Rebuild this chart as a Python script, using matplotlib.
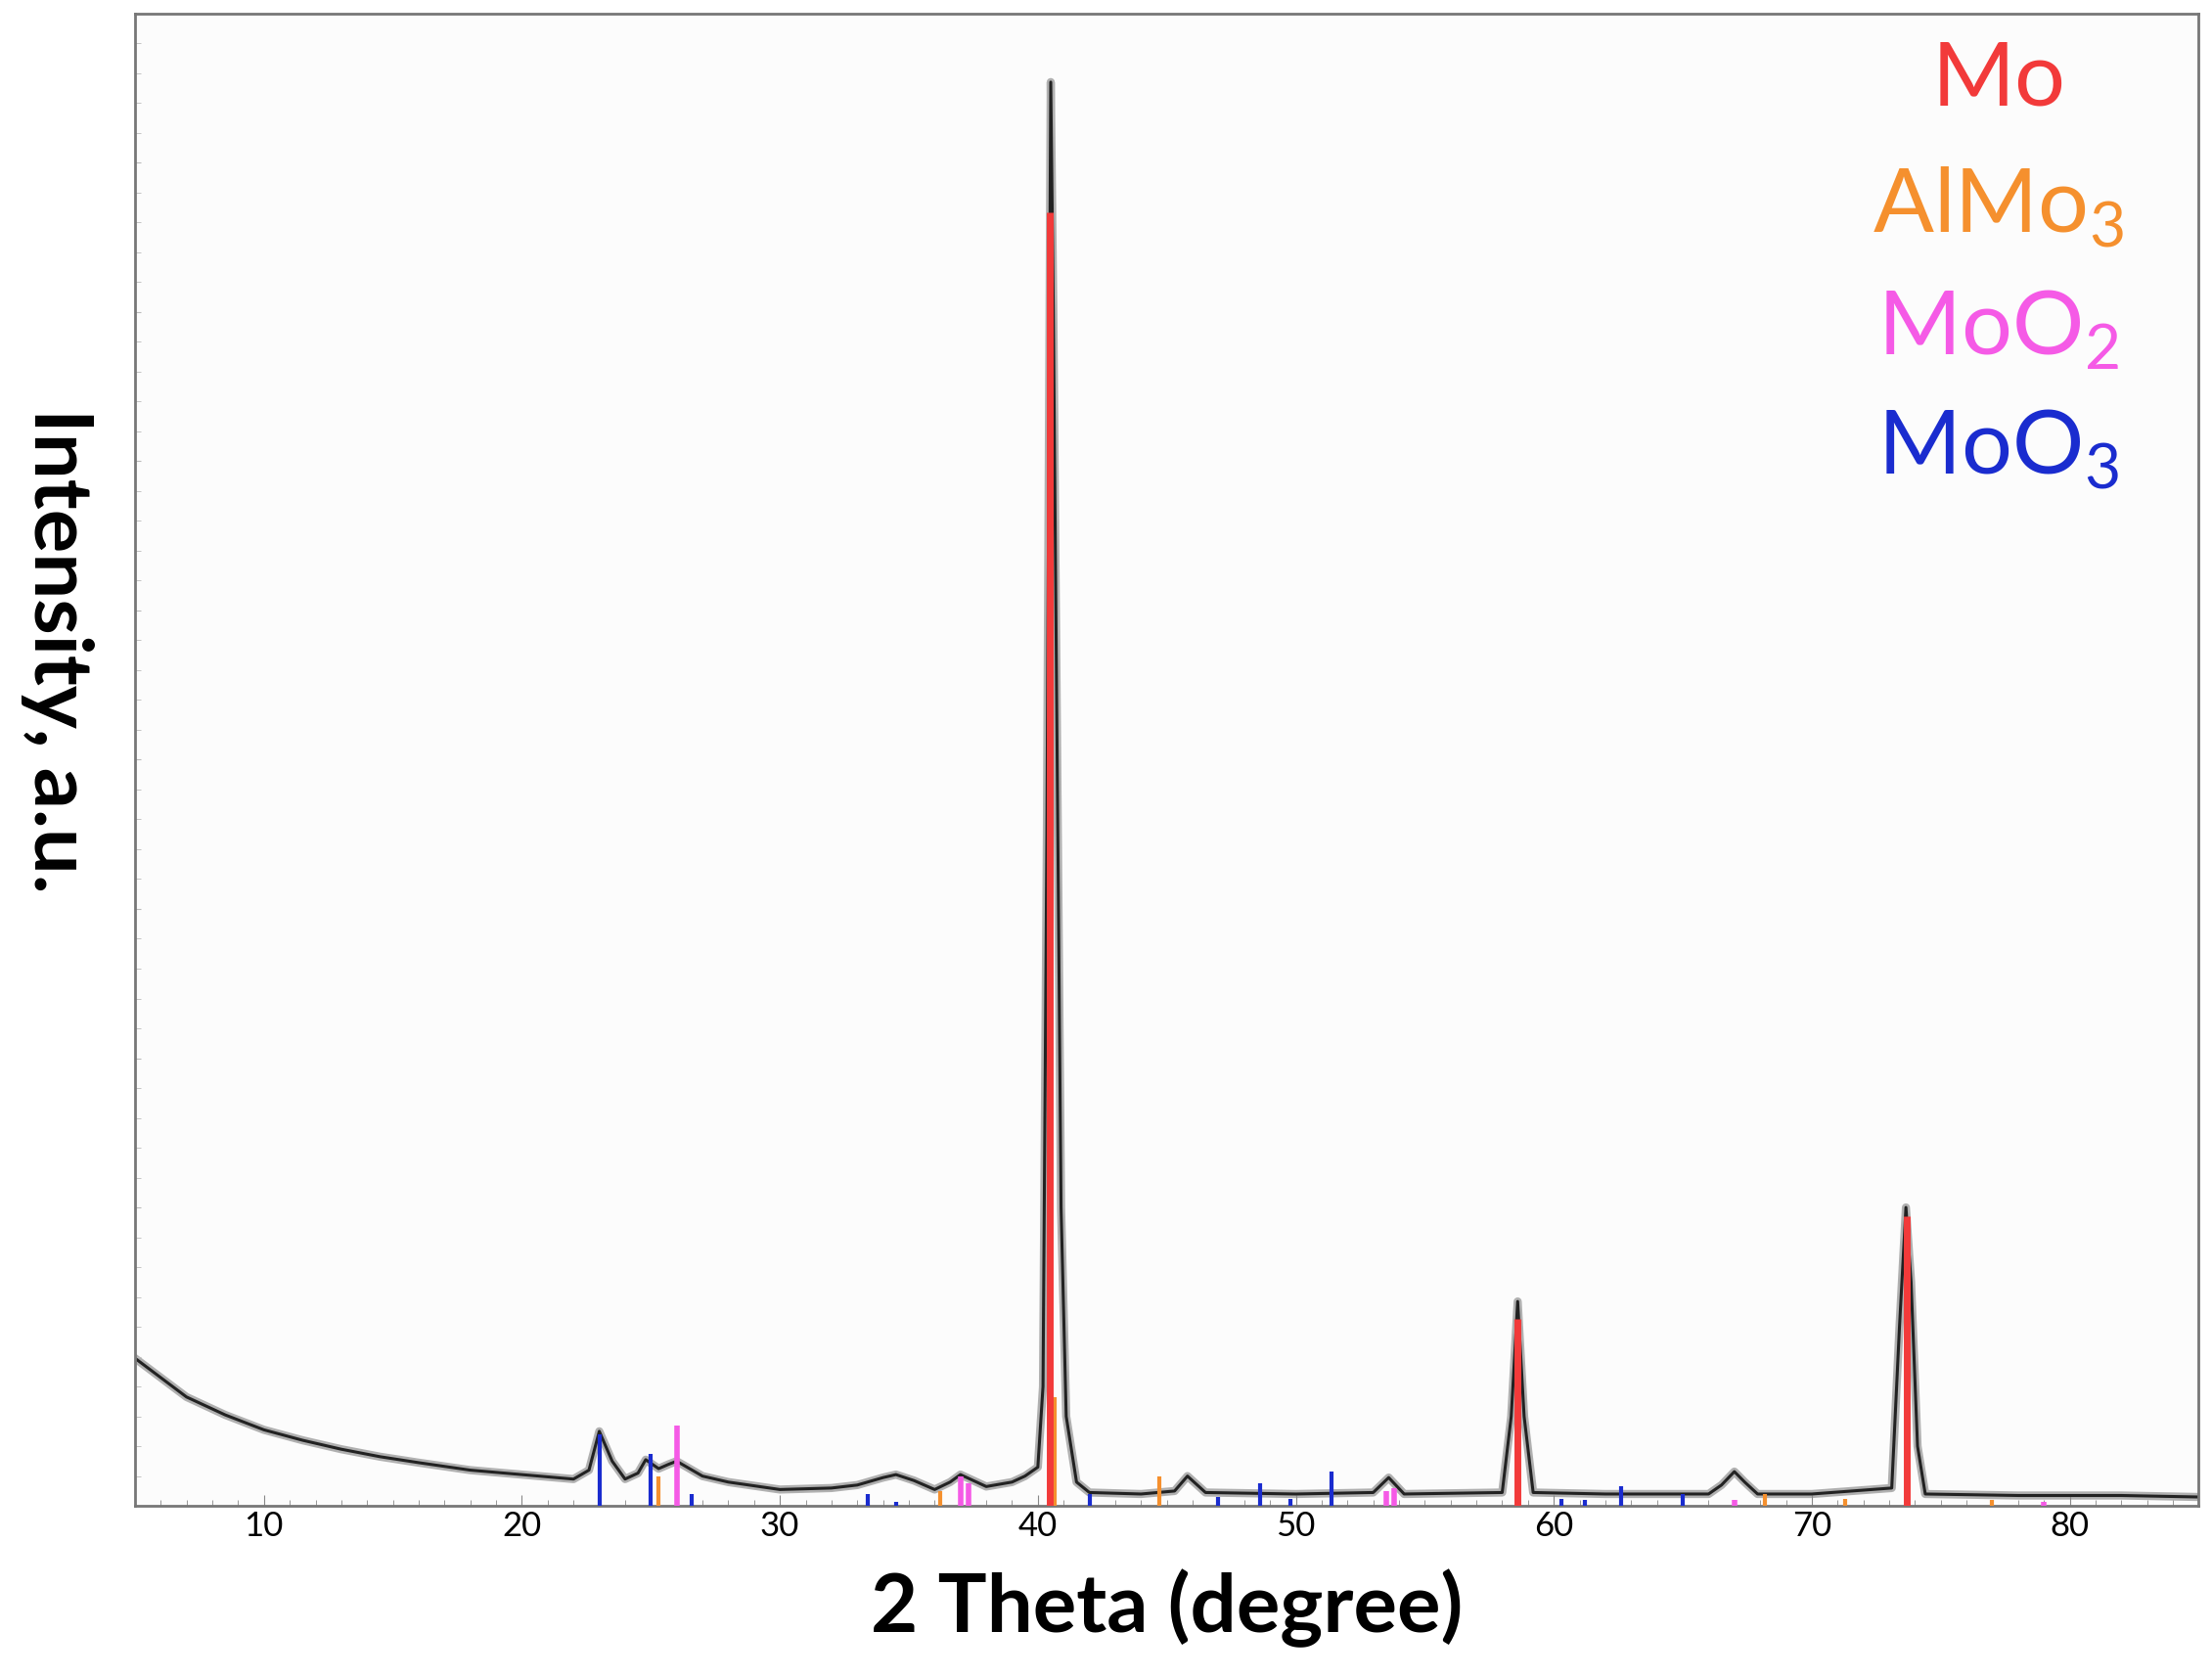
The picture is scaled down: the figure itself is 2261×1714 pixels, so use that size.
import matplotlib
matplotlib.use("Agg")
import matplotlib.pyplot as plt
from matplotlib.ticker import MultipleLocator, NullFormatter

plt.rcParams['font.family'] = ['Lato', 'DejaVu Sans']
plt.rcParams['mathtext.fontset'] = 'custom'
plt.rcParams['mathtext.rm'] = 'Lato'

# XRD profile (2theta, relative intensity)
theta = [5, 6, 7, 8.5, 10, 11.5, 13, 14.5, 16, 18, 20, 22, 22.6, 23.0, 23.5, 24.0, 24.5, 24.8, 25.3, 25.7,
         26.0, 26.4, 27.0, 28, 30, 32, 33, 34, 34.5, 35.2, 36, 36.6, 37.0, 37.5, 38, 39, 39.5, 40.0,
         40.2, 40.35, 40.5, 40.6, 40.75, 40.9, 41.1, 41.5, 42, 44, 45.3, 45.8, 46.5, 50, 53, 53.6, 54.2,
         58.0, 58.35, 58.6, 58.85, 59.2, 62, 66, 66.5, 67.0, 67.4, 67.9, 70, 73.1, 73.4, 73.65, 73.85,
         74.1, 74.4, 78, 82, 85]
intensity = [0.099, 0.086, 0.073, 0.061, 0.051, 0.044, 0.038, 0.033, 0.029, 0.024, 0.021, 0.018, 0.024,
             0.050, 0.030, 0.018, 0.022, 0.031, 0.025, 0.028, 0.030, 0.026, 0.020, 0.016, 0.011, 0.012,
             0.014, 0.019, 0.021, 0.017, 0.011, 0.016, 0.021, 0.017, 0.013, 0.016, 0.020, 0.026, 0.080,
             0.45, 0.954, 0.80, 0.50, 0.20, 0.060, 0.016, 0.009, 0.008, 0.010, 0.020, 0.009, 0.008, 0.009,
             0.019, 0.008, 0.009, 0.060, 0.137, 0.060, 0.009, 0.008, 0.008, 0.014, 0.023, 0.016, 0.008,
             0.008, 0.012, 0.120, 0.200, 0.150, 0.040, 0.008, 0.007, 0.007, 0.006]

# Reference sticks
mo_pos = [40.45, 58.6, 73.7]
mo_int = [0.867, 0.125, 0.194]
almo3_pos = [25.3, 36.2, 40.65, 44.7, 68.2, 71.3, 77.0]
almo3_int = [0.020, 0.010, 0.073, 0.020, 0.008, 0.005, 0.004]
moo2_pos = [26.0, 37.0, 37.3, 53.5, 53.8, 67.0, 79.0]
moo2_int = [0.054, 0.020, 0.015, 0.010, 0.012, 0.004, 0.003]
moo3_pos = [23.0, 25.0, 26.6, 33.4, 34.5, 42.0, 47.0, 48.6, 49.8, 51.4, 60.3, 61.2, 62.6, 65.0]
moo3_int = [0.048, 0.035, 0.008, 0.008, 0.003, 0.008, 0.006, 0.015, 0.005, 0.023, 0.005, 0.004, 0.013, 0.008]

legend_labels = ["Mo", "AlMo$_3$", "MoO$_2$", "MoO$_3$"]
colors = ["#f23a3a", "#f5902e", "#f55ae6", "#1a2ccf"]

fig = plt.figure(figsize=(22.61, 17.14), dpi=100)
ax = fig.add_axes([0.061, 0.102, 0.933, 0.890])
ax.set_facecolor("#fcfcfc")

ax.plot(theta, intensity, color="#b0b0b0", lw=6, zorder=1)
ax.plot(theta, intensity, color="#222222", lw=2.2, zorder=2)
for pos, ints, c, w in [(moo3_pos, moo3_int, colors[3], 3), (moo2_pos, moo2_int, colors[2], 4),
                        (almo3_pos, almo3_int, colors[1], 3), (mo_pos, mo_int, colors[0], 5)]:
    ax.vlines(pos, 0, ints, colors=c, lw=w, zorder=3)

ax.set_xlim(5, 85)
ax.set_ylim(0, 1)
ax.xaxis.set_major_locator(MultipleLocator(10))
ax.xaxis.set_minor_locator(MultipleLocator(1))
ax.yaxis.set_major_locator(MultipleLocator(0.1))
ax.yaxis.set_minor_locator(MultipleLocator(0.02))
ax.yaxis.set_major_formatter(NullFormatter())
ax.tick_params(axis="x", which="major", labelsize=25, length=8, color="#888888", direction="in")
ax.tick_params(axis="x", which="minor", length=4, color="#888888", direction="in")
ax.tick_params(axis="y", which="both", length=4, color="#bbbbbb", direction="in")
for s in ax.spines.values():
    s.set_color("#777777")
    s.set_linewidth(2)

ax.set_xlabel("2 Theta (degree)", fontsize=60, fontweight="bold", labelpad=20)
fig.text(0.026, 0.612, "Intensity, a.u.", fontsize=60, fontweight="bold",
         rotation=270, ha="center", va="center")

ys = [0.955, 0.870, 0.788, 0.708]
for lab, c, y in zip(legend_labels, colors, ys):
    ax.text(0.903, y, lab, color=c, fontsize=66, ha="center", va="center", transform=ax.transAxes)

fig.savefig("out.png", dpi=100)
